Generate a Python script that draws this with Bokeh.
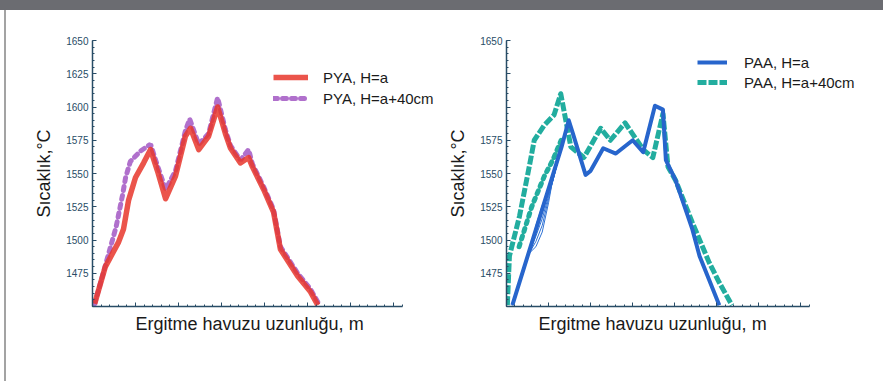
from bokeh.plotting import figure
from bokeh.layouts import row, column
from bokeh.models import Range1d, SingleIntervalTicker, Legend, LegendItem, Div, Title
from bokeh.embed import file_html
from bokeh.resources import INLINE

# ---- left panel: PYA ----
pya_x = [0.05, 0.30, 0.60, 0.72, 0.84, 1.00, 1.19, 1.35, 1.51, 1.70, 1.93, 2.16, 2.28, 2.47,
         2.70, 2.91, 3.09, 3.21, 3.44, 3.63, 3.72, 3.98, 4.21, 4.37, 4.77, 5.07, 5.24]
pya_a = [1452, 1480, 1498, 1508, 1530, 1547, 1558, 1568, 1552, 1531, 1548, 1578, 1584, 1568,
         1578, 1600, 1580, 1569, 1558, 1562, 1555, 1538, 1521, 1493, 1473, 1461, 1451]
pya40_x = [0.05, 0.30, 0.55, 0.70, 0.77, 0.88, 1.12, 1.35, 1.51, 1.70, 1.93, 2.16, 2.26, 2.47,
           2.70, 2.91, 3.09, 3.21, 3.44, 3.63, 3.72, 3.98, 4.21, 4.37, 4.77, 5.07, 5.28]
pya40 = [1452, 1481, 1510, 1534, 1547, 1559, 1567, 1572, 1556, 1538, 1552, 1582, 1591, 1572,
         1580, 1607, 1583, 1571, 1560, 1568, 1557, 1540, 1523, 1495, 1475, 1463, 1451]

# ---- right panel: PAA ----
paa_x = [0.14, 1.31, 1.48, 1.58, 1.88, 2.00, 2.30, 2.60, 3.00, 3.25, 3.53, 3.72, 3.79, 4.02,
         4.42, 4.59, 4.82, 5.06]
paa_a = [1451, 1570, 1590, 1580, 1549, 1552, 1569, 1565, 1575, 1566, 1601, 1598, 1560, 1545,
         1508, 1488, 1470, 1451]
fan_x = [0.14, 0.54, 0.70, 0.85, 1.00, 1.08, 1.31]
fan_1 = [1451, 1490, 1495, 1506, 1528, 1542, 1570]
fan_2 = [1451, 1490, 1499, 1511, 1531, 1542, 1570]
fan_3 = [1451, 1490, 1503, 1516, 1533, 1542, 1570]
fan_4 = [1451, 1490, 1507, 1521, 1536, 1542, 1570]
fan_5 = [1451, 1490, 1511, 1526, 1538, 1542, 1570]
paa40_x = [0.02, 0.07, 0.31, 0.54, 0.66, 0.89, 1.13, 1.29, 1.41, 1.53, 1.84, 2.24, 2.47, 2.82,
           3.25, 3.48, 3.72, 3.84, 4.02, 4.42, 4.82, 5.06, 5.36]
paa40 = [1451, 1488, 1518, 1555, 1575, 1586, 1594, 1610, 1590, 1570, 1562, 1584, 1575, 1588,
         1568, 1562, 1595, 1555, 1545, 1513, 1483, 1468, 1451]
paa40_low_x = [0.30, 0.60, 0.90, 1.10, 1.30]
paa40_low = [1495, 1525, 1548, 1560, 1575]

x_ticks = [0, 1, 2, 3, 4, 5, 6, 7]
x_title = "Ergitme havuzu uzunluğu, m"
y_title = "Sıcaklık,°C"

FONT = "Liberation Sans"
AXC = "#284c66"


def make_fig(width, bl, overrides, title_offset, px_per_unit):
    frame_w = width - bl
    p = figure(width=width, height=371, output_backend="svg", toolbar_location=None,
               x_range=Range1d(0, frame_w / px_per_unit), y_range=Range1d(1450, 1650),
               min_border_left=bl, min_border_right=0, min_border_top=30, min_border_bottom=75)
    p.outline_line_color = None
    p.grid.visible = False
    p.background_fill_color = "white"
    p.border_fill_color = "white"
    p.xaxis.ticker = SingleIntervalTicker(interval=1, num_minor_ticks=5)
    p.xaxis.bounds = (0, 7.2)
    p.yaxis.ticker = SingleIntervalTicker(interval=25, num_minor_ticks=5)
    for ax in (p.xaxis, p.yaxis):
        ax.axis_line_color = AXC
        ax.axis_line_width = 1.5
        ax.major_tick_line_color = AXC
        ax.minor_tick_line_color = AXC
        ax.major_tick_in = 4
        ax.major_tick_out = 0
        ax.minor_tick_in = 2
        ax.minor_tick_out = 0
    p.yaxis.major_label_text_font = FONT
    p.yaxis.major_label_text_font_size = "10px"
    p.yaxis.major_label_text_color = AXC
    p.yaxis.major_label_standoff = 4
    p.yaxis.major_label_overrides = overrides
    p.yaxis.axis_label = y_title
    p.yaxis.axis_label_text_font = FONT
    p.yaxis.axis_label_text_font_style = "normal"
    p.yaxis.axis_label_text_color = "#1a1a1a"
    p.yaxis.axis_label_text_font_size = "18px"
    p.yaxis.axis_label_standoff = 9
    p.xaxis.major_label_text_font = FONT
    p.xaxis.major_label_text_font_size = "9px"
    p.xaxis.major_label_overrides = {t: "" for t in x_ticks}
    p.xaxis.major_label_standoff = 0
    p.add_layout(Title(text=x_title, align="left", offset=title_offset,
                       text_font=FONT, text_font_size="18px", text_font_style="normal",
                       text_color="#1a1a1a", standoff=11), "below")
    return p


def make_legend(items, loc, spacing, gw, standoff):
    return Legend(items=items, location=loc, orientation="vertical", padding=0, margin=0,
                  spacing=spacing, glyph_width=gw, glyph_height=18, label_height=18,
                  label_standoff=standoff, border_line_color=None, background_fill_alpha=0,
                  label_text_font=FONT, label_text_font_size="15px",
                  label_text_color="#1a1a1a")


# left figure
p1 = make_fig(439, 86, {1450: ""}, 43, 43.0)
r_p40 = p1.line(pya40_x, pya40, line_color="#a760c6", line_width=5, line_dash="4 5",
                line_cap="round", line_alpha=0.9)
r_pa = p1.line(pya_x, pya_a, line_color="#e8362c", line_width=5.5, line_alpha=0.85,
               line_join="round")
p1.add_layout(make_legend([LegendItem(label="PYA, H=a", renderers=[r_pa]),
                           LegendItem(label="PYA, H=a+40cm", renderers=[r_p40])],
                          (181, 199), 3, 35, 15))

# right figure
p2 = make_fig(438, 57, {1450: "", 1600: "", 1625: ""}, 32, 42.5)
p2.line(paa40_low_x, paa40_low, line_color="#22ad9f", line_width=5, line_dash="3 5",
        line_cap="round")
r_q40 = p2.line(paa40_x, paa40, line_color="#22ad9f", line_width=5, line_dash="9 2",
                line_join="round")
for fy in (fan_1, fan_2, fan_3, fan_4, fan_5):
    p2.line(fan_x, fy, line_color="#2f72d4", line_width=1)
r_qa = p2.line(paa_x, paa_a, line_color="#2765cc", line_width=4, line_join="round")
p2.add_layout(make_legend([LegendItem(label="PAA, H=a", renderers=[r_qa]),
                           LegendItem(label="PAA, H=a+40cm", renderers=[r_q40])],
                          (191, 215), 2, 30, 17))

top_bar = Div(width=883, height=10, margin=0, styles={"background-color": "#6b6c71"})
left_edge = Div(width=6, height=371, margin=0,
                styles={"background": "linear-gradient(to right, #ffffff 0px, #ffffff 4px, #a3a3a3 4px, #a3a3a3 6px)"})

layout = column(top_bar, row(left_edge, p1, p2))

open("out.html", "w").write(file_html(layout, INLINE))
